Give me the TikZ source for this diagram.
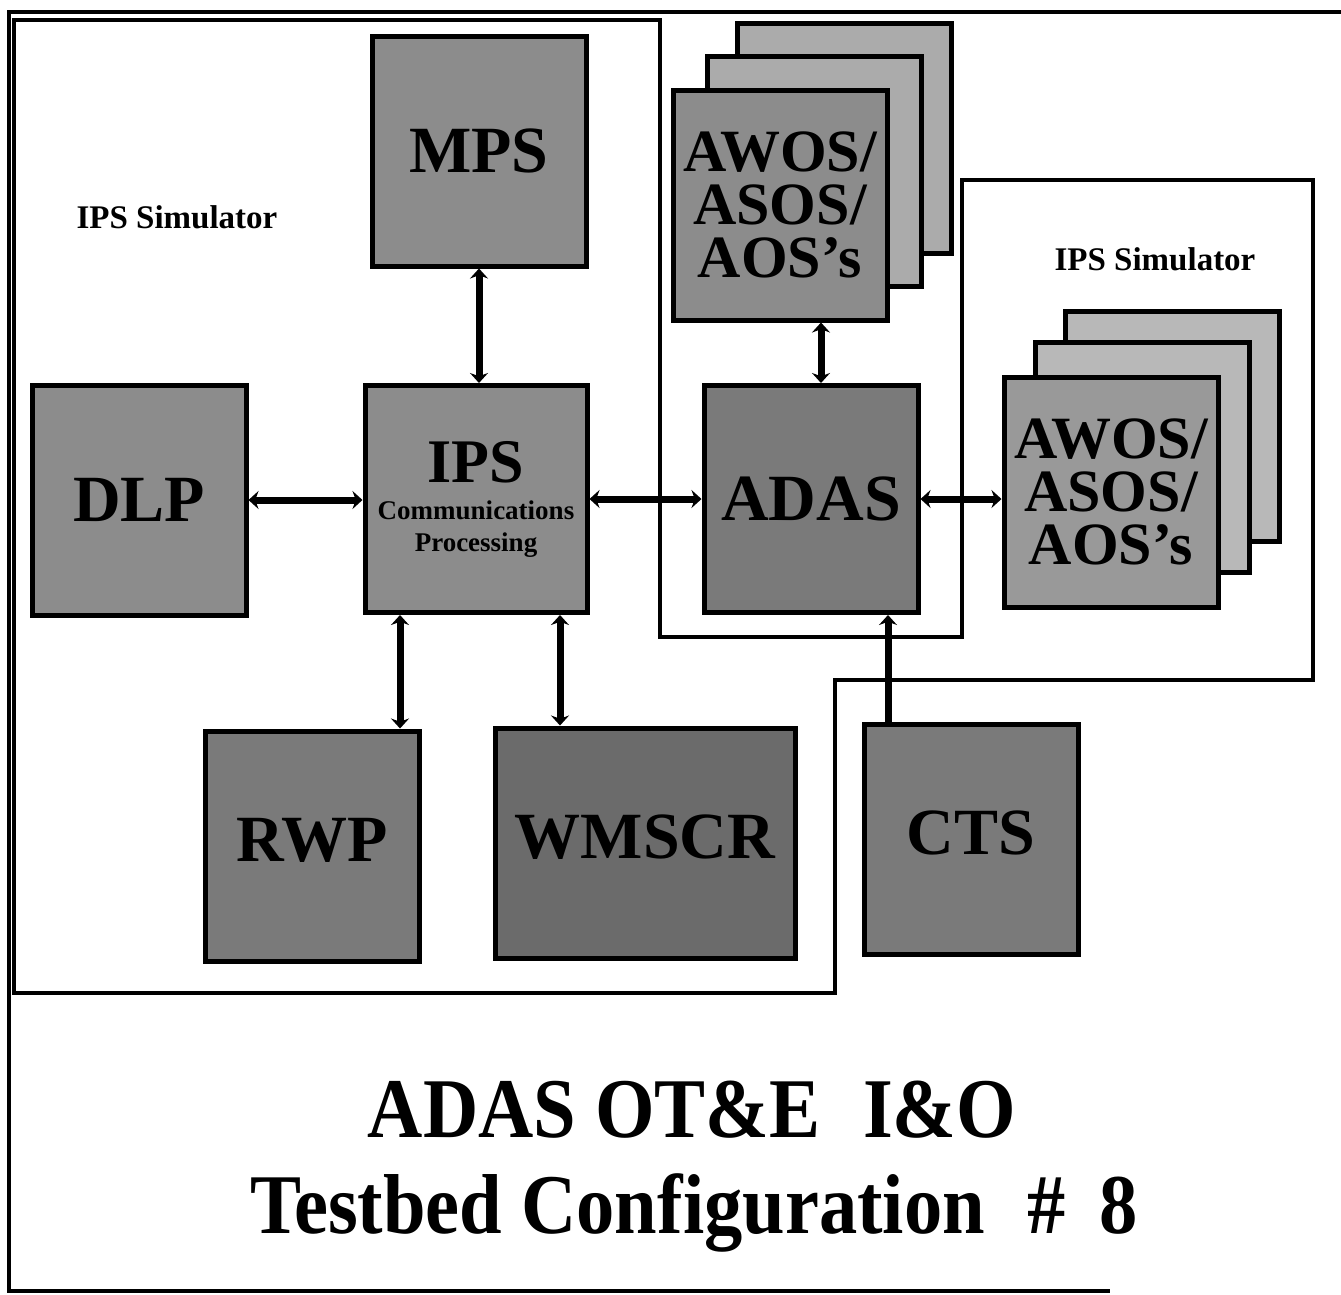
\documentclass[tikz,border=0pt]{standalone}
\usepackage{fontspec}
\setmainfont{Liberation Serif}
\newfontfamily\condfont{Liberation Serif}[FakeStretch=0.9]
\usetikzlibrary{arrows.meta}

\begin{document}
\begin{tikzpicture}[x=1pt, y=-1pt, >={Stealth[length=10pt,width=18pt]}, font=\bfseries,
  unit/.style={draw, line width=5pt, fill=black!45, inner sep=0pt, align=center,
    minimum width=214pt, minimum height=230pt, font=\bfseries\fontsize{66}{52}\selectfont},
  low/.style={text height=44pt, text depth=14pt},
  sheet/.style={unit, fill=black!33},
  stack/.style={unit, font=\bfseries\fontsize{60}{53}\selectfont},
  link/.style={line width=7pt, <->},
  feed/.style={line width=7pt, ->},
  region/.style={line width=4.5pt},
  simlbl/.style={anchor=base, font=\bfseries\fontsize{33}{40}\selectfont},
  ttl/.style={anchor=base, font=\condfont\bfseries\fontsize{85}{96}\selectfont}]
  \useasboundingbox (0,0) rectangle (1341,1294);
  \draw[line width=3.5pt] (1341,12) -- (9,12) -- (9,1291) -- (1110,1291);
  \draw[region] (14,20) -- (660,20) -- (660,637) -- (962,637) -- (962,180) -- (1313,180)
    -- (1313,680) -- (835,680) -- (835,993) -- (14,993) -- cycle;
  \node[simlbl] (siml) at (177,228) {IPS Simulator};
  \node[simlbl] (simr) at (1155,270) {IPS Simulator};

  \node[unit] (mps) at (479,151) {MPS};
  \node[unit] (dlp) at (139,500) {DLP};
  \node[unit, minimum width=222pt, minimum height=227pt, font=\bfseries\fontsize{27}{32}\selectfont] (ips) at (476,499)
    {{\fontsize{62}{62}\selectfont IPS}\\[5pt]Communications\\Processing};
  \node[unit, fill=black!52, minimum height=227pt] (adas) at (811,499) {ADAS};

  \node[sheet] (awosa3) at (844,138) {};
  \node[sheet] (awosa2) at (814,171) {};
  \node[stack] (awosa1) at (780,205) {AWOS/\\ASOS/\\AOS's};
  \node[sheet, fill=black!28] (awosb3) at (1172,426) {};
  \node[sheet, fill=black!28] (awosb2) at (1142,457) {};
  \node[stack, fill=black!40] (awosb1) at (1111,492) {AWOS/\\ASOS/\\AOS's};

  \node[unit, low, fill=black!52] (rwp) at (312,846) {RWP};
  \node[unit, low, fill=black!58, minimum width=300pt] (wmscr) at (645,843) {WMSCR};
  \node[unit, low, fill=black!52] (cts) at (971,839) {CTS};

  \coordinate (ta) at ([xshift=10pt]adas.north);
  \coordinate (tr) at ([xshift=-76pt]ips.south);
  \coordinate (tw) at ([xshift=84pt]ips.south);
  \coordinate (tc) at ([xshift=77pt]adas.south);
  \draw[link] (mps.south) -- (mps.south |- ips.north);
  \draw[link] (dlp.east) -- (dlp.east -| ips.west);
  \draw[link] (ips.east) -- (ips.east -| adas.west);
  \draw[link] (ta |- awosa1.south) -- (ta);
  \draw[link] (adas.east) -- (adas.east -| awosb1.west);
  \draw[link] (tr) -- (tr |- rwp.north);
  \draw[link] (tw) -- (tw |- wmscr.north);
  \draw[feed] (tc |- cts.north) -- (tc);

  \node[ttl] (ttl1) at (692,1137) {ADAS OT\&E\hspace{0.5em}I\&O};
  \node[ttl] (ttl2) at (694,1233) {Testbed Configuration\hspace{0.5em}\#\hspace{0.4em}8};
\end{tikzpicture}
\end{document}
